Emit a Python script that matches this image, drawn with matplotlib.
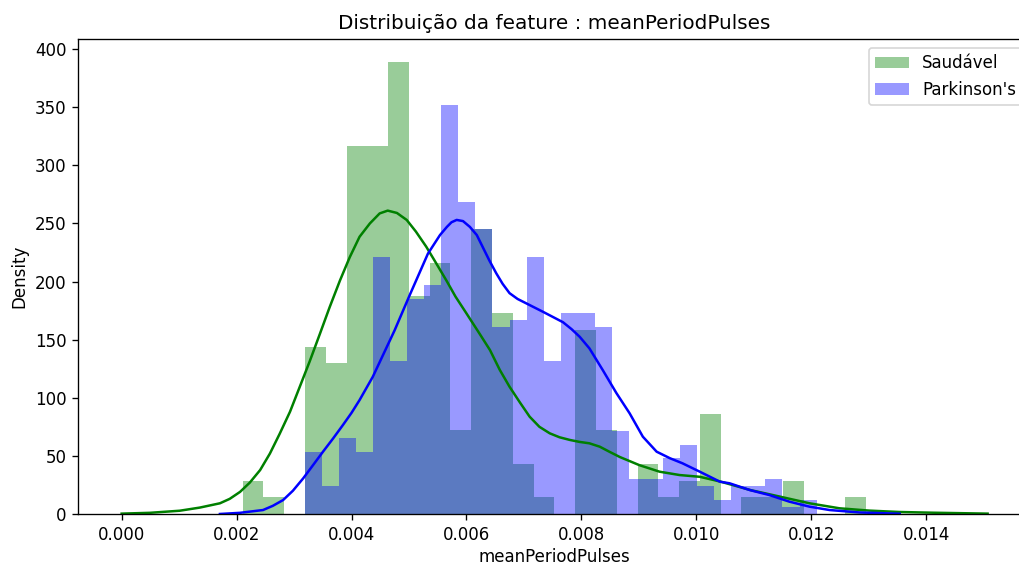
import numpy as np
import matplotlib
matplotlib.use("Agg")
import matplotlib.pyplot as plt

feature = "meanPeriodPulses"

# histogram (density) for each class, equal-width bins between lo and hi
healthy_lo, healthy_hi = 0.002104, 0.012957
healthy_density = [28.8, 14.4, 0, 144.0, 129.6, 316.8, 316.8, 388.8, 187.2, 216.0,
                   72.0, 244.8, 172.8, 43.2, 14.4, 0, 158.4, 72.0, 0, 43.2,
                   14.4, 28.8, 86.4, 0, 14.4, 14.4, 28.8, 0, 0, 14.4]

pd_lo, pd_hi = 0.003188, 0.012094
pd_density = [53.7, 23.9, 65.7, 53.7, 220.9, 131.3, 185.1, 197.0, 352.2, 268.7,
              244.8, 161.2, 167.2, 220.9, 131.3, 173.1, 173.1, 161.2, 71.6, 29.9,
              29.9, 47.8, 59.7, 23.9, 11.9, 23.9, 23.9, 29.9, 6.0, 11.9]

# kde curves
healthy_kde_x = [0.0, 0.00049, 0.00101, 0.00136, 0.00171, 0.00188, 0.00206, 0.00223,
                 0.00241, 0.00258, 0.00275, 0.00293, 0.00310, 0.00327, 0.00345,
                 0.00362, 0.00380, 0.00397, 0.00414, 0.00432, 0.00449, 0.00463,
                 0.00479, 0.00496, 0.00512, 0.00530, 0.00547, 0.00565, 0.00581,
                 0.00600, 0.00623, 0.00641, 0.00658, 0.00675, 0.00693, 0.00710,
                 0.00727, 0.00745, 0.00762, 0.00780, 0.00797, 0.00814, 0.00832,
                 0.00849, 0.00867, 0.00901, 0.00936, 0.00971, 0.01006, 0.01041,
                 0.01094, 0.01145, 0.01197, 0.01249, 0.01301, 0.01354, 0.01411,
                 0.01507]
healthy_kde_y = [0.3, 1.0, 2.8, 5.5, 9.2, 13, 19, 27, 37.8, 52, 69, 88, 109.5, 131,
                 155, 178, 201, 221, 238.5, 250, 258.6, 261, 259, 253, 243, 230,
                 216, 201, 187, 172.6, 155, 141, 124, 109.5, 96, 83.7, 75, 69.4,
                 66, 63.7, 62, 60.8, 57.9, 53.5, 49, 42, 36.4, 33.5, 32, 28, 20.6,
                 15, 9.2, 4.9, 2.9, 1.7, 1.1, 0.3]

pd_kde_x = [0.00171, 0.00206, 0.00246, 0.00263, 0.00281, 0.00298, 0.00316,
            0.00333, 0.00351, 0.00368, 0.00385, 0.00400, 0.00414, 0.00437,
            0.00456, 0.00475, 0.00501, 0.00533, 0.00554, 0.00566, 0.00574,
            0.00583, 0.00594, 0.00606, 0.00618, 0.00628, 0.00640, 0.00652,
            0.00663, 0.00675, 0.00689, 0.00705, 0.00733, 0.00768, 0.00783,
            0.00797, 0.00814, 0.00837, 0.00861, 0.00884, 0.00907, 0.00931,
            0.00954, 0.00976, 0.01006, 0.01041, 0.01058, 0.01093, 0.01127,
            0.01162, 0.01197, 0.01232, 0.01284, 0.01354]
pd_kde_y = [0.0, 1.0, 3.4, 7, 12, 20, 30.7, 42, 54, 65, 76.5, 87, 98, 118, 138,
            158, 188, 224, 240, 247, 251, 253, 252, 247, 240, 230, 218, 207, 198,
            190, 185, 181, 174, 165, 159, 152.5, 142.5, 124, 104, 86.6, 66.5,
            53.6, 48, 43.6, 36.4, 27.8, 26.4, 20.6, 16.3, 10.6, 6.3, 3.4, 1.3, 0.2]


def draw_hist(ax, lo, hi, dens, color, label):
    edges = np.linspace(lo, hi, len(dens) + 1)
    centers = (edges[:-1] + edges[1:]) / 2
    ax.hist(centers, bins=edges, weights=dens, color=color, alpha=0.4, label=label)


fig = plt.figure(figsize=(1019 / 120, 565 / 120), dpi=120)
ax = fig.add_axes([0.0769, 0.0903, 0.9348, 0.8398])

draw_hist(ax, healthy_lo, healthy_hi, healthy_density, "g", "Saudável")
ax.plot(healthy_kde_x, healthy_kde_y, color="g", lw=1.5)
draw_hist(ax, pd_lo, pd_hi, pd_density, "b", "Parkinson's")
ax.plot(pd_kde_x, pd_kde_y, color="b", lw=1.5)

ax.set_title("Distribuição da feature : " + feature)
ax.set_xlabel(feature, labelpad=2.5)
ax.set_ylabel("Density")
ax.legend(loc="upper right")

fig.savefig("out.png", dpi=120)
